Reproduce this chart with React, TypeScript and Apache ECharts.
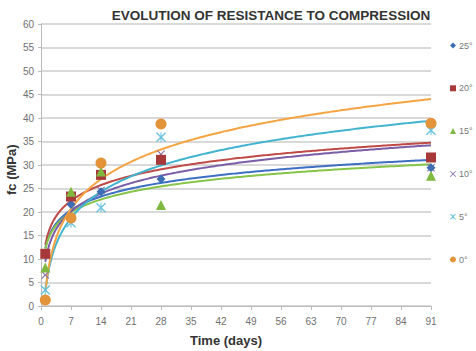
import React, { useEffect, useRef } from "react";
import * as echarts from "echarts";

const days = [1, 7, 14, 28, 91];
const seriesNames = ["25°", "20°", "15°", "10°", "5°", "0°"];
const fc25 = [11.0, 21.6, 24.3, 27.0, 29.4];
const fc20 = [11.1, 23.3, 27.9, 31.1, 31.6];
const fc15 = [8.2, 24.3, 28.6, 21.5, 27.7];
const fc10 = [6.6, 22.5, 24.6, 32.3, 29.4];
const fc5 = [3.4, 17.7, 20.9, 35.9, 37.4];
const fc0 = [1.3, 18.7, 30.4, 38.7, 38.9];

const markerColors = ["#3D6EB4", "#A7393A", "#80B940", "#8A74AE", "#6CC3DE", "#E3933A"];
const lineColors = ["#3D70C2", "#BF4A47", "#86C44A", "#7B5EA7", "#42B4CF", "#F5A442"];

const X_PATH = "path://M0,1L1,0L5,4L9,0L10,1L6,5L10,9L9,10L5,6L1,10L0,9L4,5Z";
const AST_PATH = "path://M0,1L1,0L5,4L9,0L10,1L6,5L10,9L9,10L5,6L1,10L0,9L4,5Z M4.5,0L5.5,0L5.5,10L4.5,10Z";
const symbols = ["diamond", "rect", "triangle", X_PATH, AST_PATH, "circle"];
const symbolSizes = [9, 10, 10, 8, 10, 11];
const symbolZ = [4, 4, 4, 3, 4, 4];

// Excel-style logarithmic trendline (least squares y = a ln x + b) from the data
function logFit(xs: number[], ys: number[]) {
  const ls = xs.map((x) => Math.log(x));
  const n = xs.length;
  const ml = ls.reduce((s, v) => s + v, 0) / n;
  const my = ys.reduce((s, v) => s + v, 0) / n;
  let sxy = 0, sxx = 0;
  for (let i = 0; i < n; i++) {
    sxy += (ls[i] - ml) * (ys[i] - my);
    sxx += (ls[i] - ml) * (ls[i] - ml);
  }
  const a = sxy / sxx;
  const b = my - a * ml;
  const pts: number[][] = [];
  for (let x = 1; x <= 91.0001; x += 0.5) pts.push([x, a * Math.log(x) + b]);
  return pts;
}

export default function App() {
  const ref = useRef<HTMLDivElement>(null);
  useEffect(() => {
    if (!ref.current) return;
    const chart = echarts.init(ref.current, null, { renderer: "svg" });
    const all = [fc25, fc20, fc15, fc10, fc5, fc0];
    const trendSeries = all.map((ys, i) => ({
      name: "trend" + i,
      type: "line",
      data: logFit(days, ys),
      showSymbol: false,
      symbol: "none",
      lineStyle: { color: lineColors[i], width: 2 },
      z: 2,
      silent: true,
    }));
    const scatterSeries = all.map((ys, i) => ({
      name: seriesNames[i],
      type: "scatter",
      data: days.map((d, j) => [d, ys[j]]),
      symbol: symbols[i],
      symbolSize: symbolSizes[i],
      itemStyle: { color: markerColors[i], opacity: 1 },
      z: symbolZ[i],
    }));
    chart.setOption({
      animation: false,
      textStyle: { fontFamily: "Liberation Sans, Arial, sans-serif" },
      title: {
        text: "EVOLUTION OF RESISTANCE TO COMPRESSION",
        left: 266,
        textAlign: "center",
        top: 3,
        textStyle: { fontSize: 13.5, fontWeight: "bold", color: "#333333" },
      },
      grid: { left: 41, right: 45, top: 24, bottom: 45 },
      legend: {
        data: seriesNames,
        orient: "vertical",
        left: 445,
        top: 36,
        itemWidth: 6,
        itemHeight: 6,
        itemGap: 33.8,
        textStyle: { fontSize: 9, color: "#777777", padding: [0, 0, 0, -2] },
      },
      xAxis: {
        type: "value",
        min: 0,
        max: 91,
        interval: 7,
        axisLine: { show: true, lineStyle: { color: "#BBBBBB", width: 1 } },
        axisTick: { show: true, length: 4, lineStyle: { color: "#BBBBBB" } },
        axisLabel: { fontSize: 10, color: "#707070", margin: 10 },
        splitLine: { show: false },
      },
      yAxis: {
        type: "value",
        min: 0,
        max: 60,
        interval: 5,
        axisLine: { show: true, lineStyle: { color: "#BBBBBB", width: 1 } },
        axisTick: { show: true, length: 3, lineStyle: { color: "#BBBBBB" } },
        axisLabel: { fontSize: 10, color: "#707070", margin: 7 },
        splitLine: { show: true, lineStyle: { color: "#CCCCCC", width: 1.5 } },
      },
      graphic: [
        {
          type: "text",
          left: 190,
          top: 334,
          style: { text: "Time (days)", font: "bold 13px 'Liberation Sans', Arial, sans-serif", fill: "#333333" },
        },
        {
          type: "text",
          x: 5,
          y: 195,
          rotation: Math.PI / 2,
          style: { text: "fc (MPa)", font: "bold 13px 'Liberation Sans', Arial, sans-serif", fill: "#333333" },
        },
      ],
      series: [...trendSeries, ...scatterSeries],
    });
    return () => chart.dispose();
  }, []);
  return <div ref={ref} style={{ width: 476, height: 351, position: "absolute", left: 0, top: 0 }} />;
}
